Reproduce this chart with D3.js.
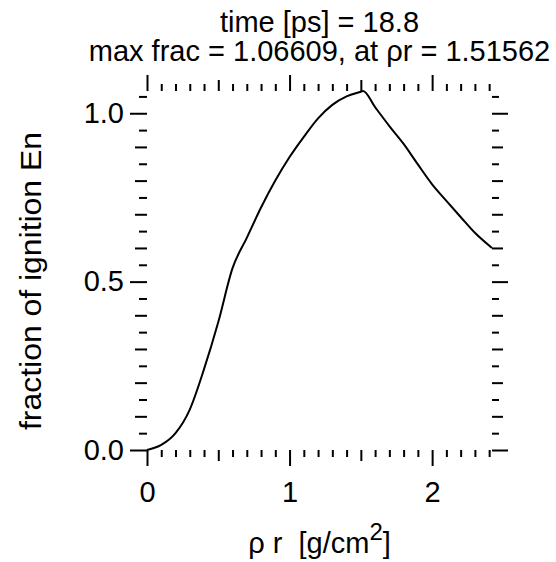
<!DOCTYPE html>
<html><head><meta charset="utf-8">
<script src="https://cdn.jsdelivr.net/npm/d3@7"></script>
<style>
body{margin:0;background:#fff;}
text{font-family:"Liberation Sans",Arial,Helvetica,sans-serif;fill:#000;}
</style></head>
<body><svg id="chart" width="556" height="562"></svg>
<script>
// ---- data ----
const rhoR = [0, 0.1, 0.2, 0.3, 0.4, 0.5, 0.6, 0.7, 0.8, 0.9, 1.0, 1.1, 1.2, 1.3, 1.4, 1.5, 1.51562, 1.6, 1.7, 1.8, 1.9, 2.0, 2.1, 2.2, 2.3, 2.42];
const frac = [0, 0.015, 0.05, 0.12, 0.24, 0.38, 0.54, 0.63, 0.72, 0.80, 0.87, 0.93, 0.985, 1.025, 1.05, 1.064, 1.06609, 1.018, 0.962, 0.909, 0.848, 0.789, 0.74, 0.692, 0.645, 0.60];
const xMajor = [0, 1, 2];
const xMedium = [0.5, 1.5];
const xMinor = [0.1,0.2,0.3,0.4,0.6,0.7,0.8,0.9,1.1,1.2,1.3,1.4,1.6,1.7,1.8,1.9,2.1,2.2,2.3,2.4];
const yMajor = [0, 0.5, 1.0];
const yMedium = [0.1,0.2,0.3,0.4,0.6,0.7,0.8,0.9];
const yMinor = [0.05,0.15,0.25,0.35,0.45,0.55,0.65,0.75,0.85,0.95,1.05];
const titleLines = ["time [ps] = 18.8", "max frac = 1.06609, at \u03c1r = 1.51562"];
const yTitle = "fraction of ignition En";

const svg = d3.select("#chart");
const FS = 29;
const L = 147, R = 492, T = 91, B = 450;
const x = d3.scaleLinear().domain([0, 2.42]).range([L, R]);
const y = d3.scaleLinear().domain([0, 1.06609]).range([B, T]);

function ax(gen, vals, size, pos, labels, pad, fmt) {
  const a = gen.tickValues(vals).tickSize(size).tickPadding(pad || 3);
  a.tickFormat(labels ? fmt : () => "");
  const g = svg.append("g").attr("transform", pos).call(a);
  g.select(".domain").remove();
  g.selectAll("line").attr("stroke", "#000").attr("stroke-width", 2);
  g.selectAll("text").style("font-size", FS + "px").style("font-family", '"Liberation Sans",Arial,sans-serif').attr("fill", "#000");
  return g;
}
const f1 = d3.format(".1f"), f0 = d3.format("d");
// bottom
ax(d3.axisBottom(x), xMajor, 16, `translate(0,${B})`, true, 15, f0);
ax(d3.axisBottom(x), xMedium, 11, `translate(0,${B})`);
ax(d3.axisBottom(x), xMinor, 7, `translate(0,${B})`);
// top
ax(d3.axisTop(x), xMajor, 16, `translate(0,${T})`);
ax(d3.axisTop(x), xMedium, 11, `translate(0,${T})`);
ax(d3.axisTop(x), xMinor, 7, `translate(0,${T})`);
// left
ax(d3.axisLeft(y), yMajor, 17, `translate(${L},0)`, true, 6, f1);
ax(d3.axisLeft(y), yMedium, 12, `translate(${L},0)`);
ax(d3.axisLeft(y), yMinor, 8, `translate(${L},0)`);
// right
ax(d3.axisRight(y), yMajor, 16, `translate(${R},0)`);
ax(d3.axisRight(y), yMedium, 11, `translate(${R},0)`);
ax(d3.axisRight(y), yMinor, 7, `translate(${R},0)`);

// curve
const line = d3.line().x((d, i) => x(rhoR[i])).y(d => y(d)).curve(d3.curveMonotoneX);
svg.append("path").datum(frac).attr("d", line)
  .attr("fill", "none").attr("stroke", "#000").attr("stroke-width", 2);

// titles
const cx = (L + R) / 2;
svg.append("text").attr("x", cx).attr("y", 32).attr("text-anchor", "middle")
  .style("font-size", FS + "px").text(titleLines[0]);
svg.append("text").attr("x", cx).attr("y", 61).attr("text-anchor", "middle")
  .style("font-size", FS + "px").text(titleLines[1]);
// x title with superscript
const xt = svg.append("text").attr("x", cx).attr("y", 553).attr("text-anchor", "middle")
  .style("font-size", FS + "px").style("white-space", "pre");
xt.append("tspan").text("\u03c1 r  [g/cm");
xt.append("tspan").attr("dy", -13).style("font-size", "24px").text("2");
xt.append("tspan").attr("dy", 13).text("]");
// y title
svg.append("text").attr("transform", `translate(41,281) rotate(-90)`)
  .attr("text-anchor", "middle").style("font-size", FS + "px")
  .attr("textLength", 298).attr("lengthAdjust", "spacingAndGlyphs").text(yTitle);
</script></body></html>
